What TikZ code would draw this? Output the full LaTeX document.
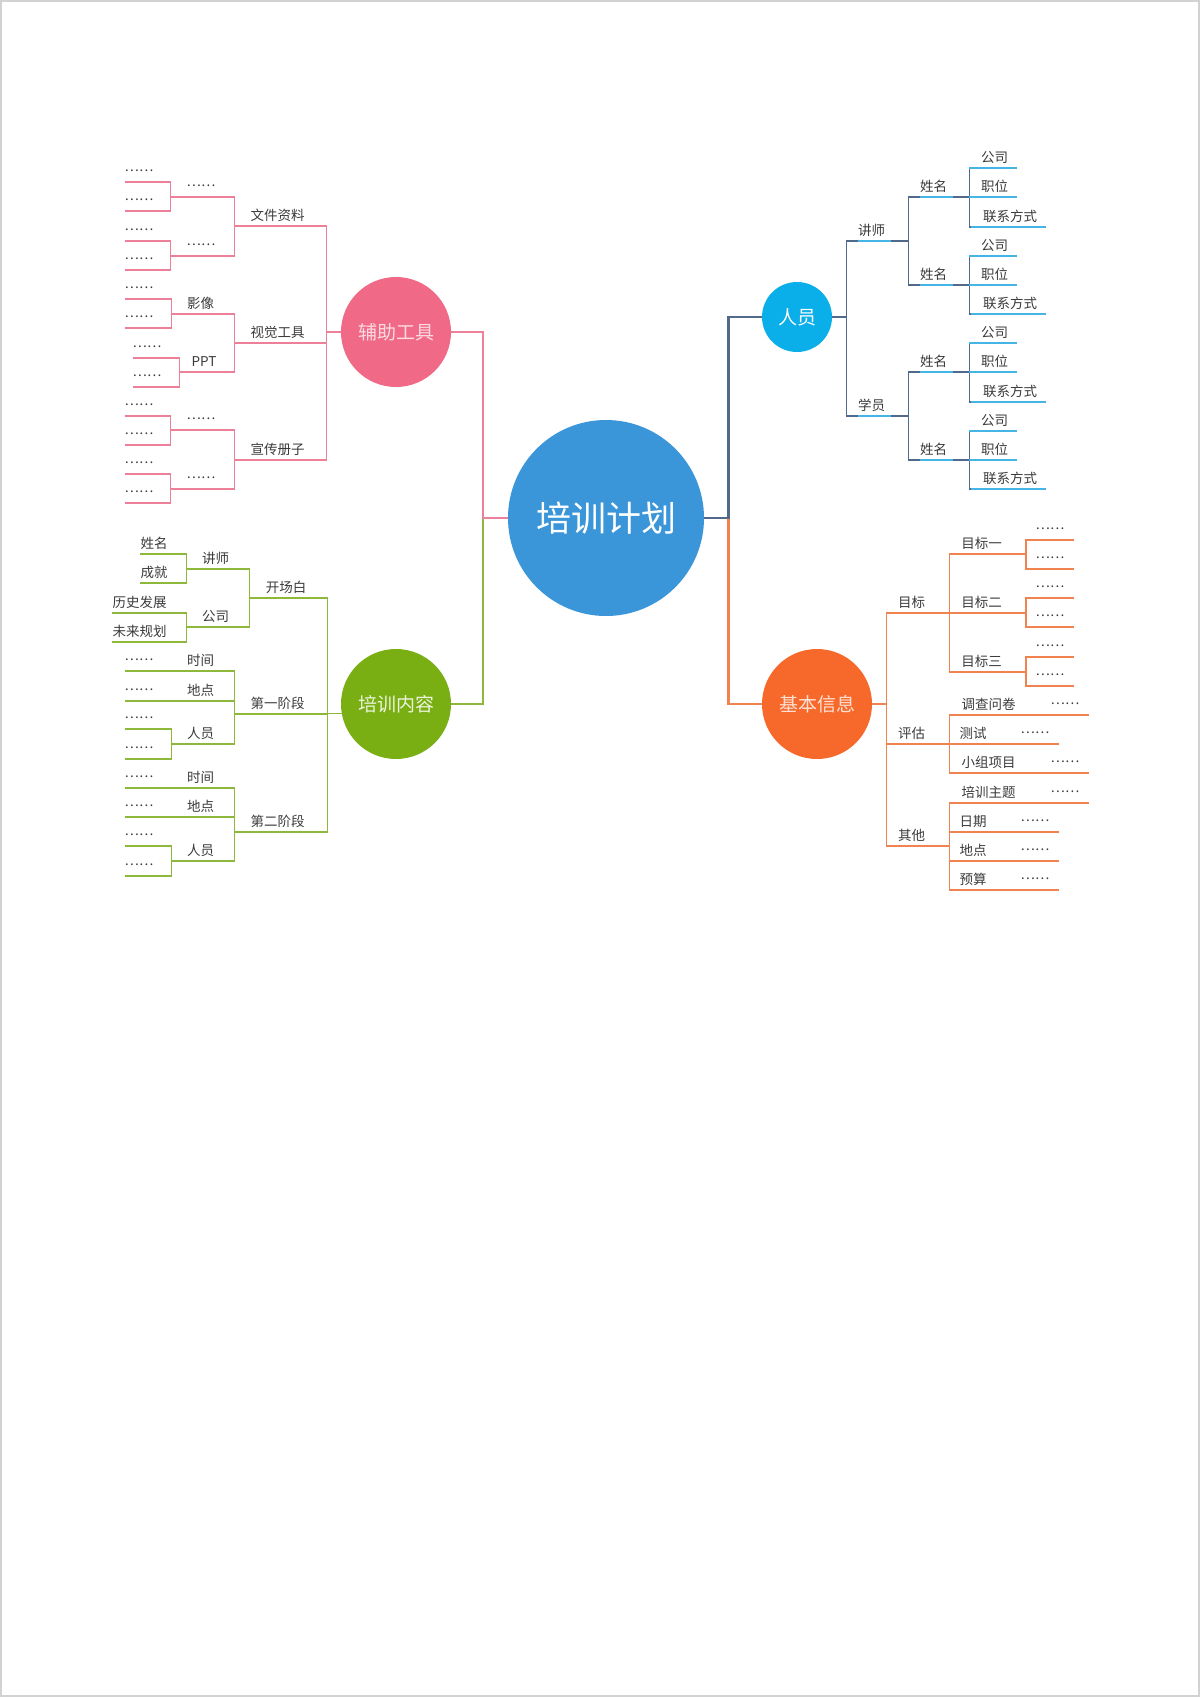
\documentclass[tikz,border=0pt]{standalone}
\usepackage{fontspec}
\newfontfamily\cjk{Noto Sans CJK SC}
\usetikzlibrary{backgrounds}
\definecolor{txt}{HTML}{3A3A3A}
\definecolor{hub}{HTML}{3A96D8}
\definecolor{pkfill}{HTML}{F06A88}
\definecolor{pkline}{HTML}{EC8099}
\definecolor{gnfill}{HTML}{7AAF14}
\definecolor{gnline}{HTML}{8DB83C}
\definecolor{blfill}{HTML}{0AAEE8}
\definecolor{bldark}{HTML}{51698A}
\definecolor{bllight}{HTML}{45B5E5}
\definecolor{ogfill}{HTML}{F7692B}
\definecolor{ogline}{HTML}{F0834F}
\definecolor{pageframe}{HTML}{D2D2D2}
\newcommand{\dts}{\raisebox{5pt}{……}}
\tikzset{
  lbl/.style={anchor=south, inner xsep=0pt, inner ysep=3pt, text height=11pt, text depth=2pt, text=txt, font=\cjk\fontsize{13.5}{13.5}\selectfont},
  pkln/.style={draw=pkline, line width=1.2pt},
  gnln/.style={draw=gnline, line width=1.2pt},
  blln/.style={draw=bldark, line width=1.2pt},
  bllt/.style={draw=bllight, line width=1.2pt},
  ogln/.style={draw=ogline, line width=1.2pt},
  pk/.style={lbl, append after command={(\tikzlastnode.south west) edge[pkln] (\tikzlastnode.south east)}},
  gn/.style={lbl, append after command={(\tikzlastnode.south west) edge[gnln] (\tikzlastnode.south east)}},
  bl/.style={lbl, append after command={(\tikzlastnode.south west) edge[bllt] ([xshift=6pt]\tikzlastnode.south east)}},
  blf/.style={lbl, append after command={([xshift=-12pt]\tikzlastnode.south west) edge[bllt] ([xshift=9pt]\tikzlastnode.south east)}},
  og/.style={lbl, append after command={(\tikzlastnode.south west) edge[ogln] (\tikzlastnode.south east)}},
  oglf/.style={lbl, append after command={(\tikzlastnode.south west) edge[ogln] ([xshift=9pt]\tikzlastnode.south east)}},
  topic/.style={circle, inner sep=0pt, minimum size=110pt, font=\cjk\fontsize{19}{19}\selectfont},
  trunk/.style={line width=2.6pt},
}
\begin{document}
\begin{tikzpicture}[x=1pt,y=-1pt]
\useasboundingbox (0,0) rectangle (1200,1697);
\draw[pageframe, line width=1.5pt] (1,1) rectangle (1199,1696);
% centre
\node[circle, fill=hub, minimum size=196pt, inner sep=0pt, text=white, font=\cjk\fontsize{35}{35}\selectfont] (root) at (606,518) {培训计划};
% 辅助工具
\node[topic, fill=pkfill, text=pkfill!25!white] (fz) at (396,332) {辅助工具};
\node[pk] (wj) at (277.5,226) {文件资料};
\node[pk] (sj) at (277.5,343) {视觉工具};
\node[pk] (xc) at (277.5,460) {宣传册子};
\node[pk] (wj1) at (201,197) {\dts};
\node[pk] (wj2) at (201,256) {\dts};
\node[pk] (yx) at (200.5,314) {影像};
\node[pk] (ppt) at (204,372) {PPT};
\node[pk] (xc1) at (201,430) {\dts};
\node[pk] (xc2) at (201,489) {\dts};
\node[pk] (wj1a) at (139,182) {\dts};
\node[pk] (wj1b) at (139,211) {\dts};
\node[pk] (wj2a) at (139,241) {\dts};
\node[pk] (wj2b) at (139,270) {\dts};
\node[pk] (yxa) at (139,299) {\dts};
\node[pk] (yxb) at (139,328) {\dts};
\node[pk] (ppta) at (147,358) {\dts};
\node[pk] (pptb) at (147,387) {\dts};
\node[pk] (xc1a) at (139,416) {\dts};
\node[pk] (xc1b) at (139,445) {\dts};
\node[pk] (xc2a) at (139,474) {\dts};
\node[pk] (xc2b) at (139,503) {\dts};
% 培训内容
\node[topic, fill=gnfill, text=gnfill!15!white] (px) at (396,704) {培训内容};
\node[gn] (kc) at (286,598) {开场白};
\node[gn] (d1) at (277.5,714) {第一阶段};
\node[gn] (d2) at (277.5,832) {第二阶段};
\node[gn] (js) at (215.5,569) {讲师};
\node[gn] (gs) at (215.5,627) {公司};
\node[gn] (xm) at (154,554) {姓名};
\node[gn] (cj) at (154,583) {成就};
\node[gn] (ls) at (139.5,613) {历史发展};
\node[gn] (wl) at (139.5,642) {未来规划};
\node[gn] (sja) at (200.5,671) {时间};
\node[gn] (dda) at (200.5,701) {地点};
\node[gn] (rya) at (200.5,744) {人员};
\node[gn] (sja1) at (139,671) {\dts};
\node[gn] (dda1) at (139,701) {\dts};
\node[gn] (rya1) at (139,729) {\dts};
\node[gn] (rya2) at (139,759) {\dts};
\node[gn] (sjb) at (200.5,788) {时间};
\node[gn] (ddb) at (200.5,817) {地点};
\node[gn] (ryb) at (200.5,861) {人员};
\node[gn] (sjb1) at (139,788) {\dts};
\node[gn] (ddb1) at (139,817) {\dts};
\node[gn] (ryb1) at (139,846) {\dts};
\node[gn] (ryb2) at (139,876) {\dts};
% 人员
\node[topic, minimum size=70pt, fill=blfill, text=white] (ry) at (797,317) {人员};
\node[bl] (bjs) at (871.5,241) {讲师};
\node[bl] (bxy) at (871.5,416) {学员};
\node[bl] (bx1) at (933.5,197) {姓名};
\node[bl] (bx2) at (933.5,285) {姓名};
\node[bl] (bx3) at (933.5,372) {姓名};
\node[bl] (bx4) at (933.5,460) {姓名};
\node[blf] (gs1) at (994.5,168) {公司};
\node[blf] (zw1) at (994.5,197) {职位};
\node[blf] (lx1) at (1010,227) {联系方式};
\node[blf] (gs2) at (994.5,256) {公司};
\node[blf] (zw2) at (994.5,285) {职位};
\node[blf] (lx2) at (1010,314) {联系方式};
\node[blf] (gs3) at (994.5,343) {公司};
\node[blf] (zw3) at (994.5,372) {职位};
\node[blf] (lx3) at (1010,402) {联系方式};
\node[blf] (gs4) at (994.5,431) {公司};
\node[blf] (zw4) at (994.5,460) {职位};
\node[blf] (lx4) at (1010,489) {联系方式};
% 基本信息
\node[topic, fill=ogfill, text=ogfill!20!white] (jb) at (817,704) {基本信息};
\node[og] (mb) at (911.5,613) {目标};
\node[og] (pg) at (911.5,744) {评估};
\node[og] (qt) at (911.5,846) {其他};
\node[og] (m1) at (981.5,554) {目标一};
\node[og] (m2) at (981.5,613) {目标二};
\node[og] (m3) at (981.5,672) {目标三};
\node[oglf] (m1a) at (1050,540) {\dts};
\node[oglf] (m1b) at (1050,569) {\dts};
\node[oglf] (m2a) at (1050,598) {\dts};
\node[oglf] (m2b) at (1050,627) {\dts};
\node[oglf] (m3a) at (1050,657) {\dts};
\node[oglf] (m3b) at (1050,686) {\dts};
\node[og] (dc) at (988.5,715) {调查问卷};
\node[oglf] (dc1) at (1065,715) {\dts};
\node[og] (cs) at (973,744) {测试};
\node[oglf] (cs1) at (1035,744) {\dts};
\node[og] (xz) at (988.5,773) {小组项目};
\node[oglf] (xz1) at (1065,773) {\dts};
\node[og] (pz) at (988.5,803) {培训主题};
\node[oglf] (pz1) at (1065,803) {\dts};
\node[og] (rq) at (973,832) {日期};
\node[oglf] (rq1) at (1035,832) {\dts};
\node[og] (dd) at (973,861) {地点};
\node[oglf] (dd1) at (1035,861) {\dts};
\node[og] (ys) at (973,890) {预算};
\node[oglf] (ys1) at (1035,890) {\dts};
\begin{scope}[on background layer]
% hub lines
\draw[trunk, gnline] (root.west) -- ++(-25,0) |- (px.east);
\draw[trunk, pkline] (root.west) -- ++(-25,0) |- (fz.east);
\draw[trunk, ogline] (root.east) -- ++(24,0) |- (jb.west);
\draw[trunk, bldark] (root.east) -- ++(24,0) |- (ry.west);
% pink
\draw[pkln] (fz.west) -- ++(-14,0) |- (wj.south east);
\draw[pkln] (fz.west) -- ++(-14,0) |- (sj.south east);
\draw[pkln] (fz.west) -- ++(-14,0) |- (xc.south east);
\draw[pkln] (wj.south west) -- ++(-16,0) |- (wj1.south east);
\draw[pkln] (wj.south west) -- ++(-16,0) |- (wj2.south east);
\draw[pkln] (sj.south west) -- ++(-16,0) |- (yx.south east);
\draw[pkln] (sj.south west) -- ++(-16,0) |- (ppt.south east);
\draw[pkln] (xc.south west) -- ++(-16,0) |- (xc1.south east);
\draw[pkln] (xc.south west) -- ++(-16,0) |- (xc2.south east);
\draw[pkln] (wj1.south west) -- ++(-16,0) |- (wj1a.south east);
\draw[pkln] (wj1.south west) -- ++(-16,0) |- (wj1b.south east);
\draw[pkln] (wj2.south west) -- ++(-16,0) |- (wj2a.south east);
\draw[pkln] (wj2.south west) -- ++(-16,0) |- (wj2b.south east);
\draw[pkln] (yx.south west) -- ++(-15,0) |- (yxa.south east);
\draw[pkln] (yx.south west) -- ++(-15,0) |- (yxb.south east);
\draw[pkln] (ppt.south west) -- ++(-12,0) |- (ppta.south east);
\draw[pkln] (ppt.south west) -- ++(-12,0) |- (pptb.south east);
\draw[pkln] (xc1.south west) -- ++(-16,0) |- (xc1a.south east);
\draw[pkln] (xc1.south west) -- ++(-16,0) |- (xc1b.south east);
\draw[pkln] (xc2.south west) -- ++(-16,0) |- (xc2a.south east);
\draw[pkln] (xc2.south west) -- ++(-16,0) |- (xc2b.south east);
% green
\draw[gnln] (px.190) -- ++(-14,0) |- (kc.south east);
\draw[gnln] (px.190) -- ++(-14,0) |- (d1.south east);
\draw[gnln] (px.190) -- ++(-14,0) |- (d2.south east);
\draw[gnln] (kc.south west) -- ++(-16,0) |- (js.south east);
\draw[gnln] (kc.south west) -- ++(-16,0) |- (gs.south east);
\draw[gnln] (js.south west) -- ++(-15,0) |- (xm.south east);
\draw[gnln] (js.south west) -- ++(-15,0) |- (cj.south east);
\draw[gnln] (gs.south west) -- ++(-15,0) |- (ls.south east);
\draw[gnln] (gs.south west) -- ++(-15,0) |- (wl.south east);
\draw[gnln] (d1.south west) -- ++(-16,0) |- (sja.south east);
\draw[gnln] (d1.south west) -- ++(-16,0) |- (dda.south east);
\draw[gnln] (d1.south west) -- ++(-16,0) |- (rya.south east);
\draw[gnln] (sja.south west) -- (sja1.south east);
\draw[gnln] (dda.south west) -- (dda1.south east);
\draw[gnln] (rya.south west) -- ++(-15,0) |- (rya1.south east);
\draw[gnln] (rya.south west) -- ++(-15,0) |- (rya2.south east);
\draw[gnln] (d2.south west) -- ++(-16,0) |- (sjb.south east);
\draw[gnln] (d2.south west) -- ++(-16,0) |- (ddb.south east);
\draw[gnln] (d2.south west) -- ++(-16,0) |- (ryb.south east);
\draw[gnln] (sjb.south west) -- (sjb1.south east);
\draw[gnln] (ddb.south west) -- (ddb1.south east);
\draw[gnln] (ryb.south west) -- ++(-15,0) |- (ryb1.south east);
\draw[gnln] (ryb.south west) -- ++(-15,0) |- (ryb2.south east);
% blue
\draw[blln] (ry.east) -- ++(14,0) |- (bjs.south west);
\draw[blln] (ry.east) -- ++(14,0) |- (bxy.south west);
\draw[blln] (bjs.south east) -- ++(23,0) |- (bx1.south west);
\draw[blln] (bjs.south east) -- ++(23,0) |- (bx2.south west);
\draw[blln] (bxy.south east) -- ++(23,0) |- (bx3.south west);
\draw[blln] (bxy.south east) -- ++(23,0) |- (bx4.south west);
\draw[blln] (bx1.south east) -- ++(22,0) |- (gs1.south west);
\draw[blln] (bx1.south east) -- ++(22,0) |- (zw1.south west);
\draw[blln] (bx1.south east) -- ++(22,0) |- (lx1.south west);
\draw[blln] (bx2.south east) -- ++(22,0) |- (gs2.south west);
\draw[blln] (bx2.south east) -- ++(22,0) |- (zw2.south west);
\draw[blln] (bx2.south east) -- ++(22,0) |- (lx2.south west);
\draw[blln] (bx3.south east) -- ++(22,0) |- (gs3.south west);
\draw[blln] (bx3.south east) -- ++(22,0) |- (zw3.south west);
\draw[blln] (bx3.south east) -- ++(22,0) |- (lx3.south west);
\draw[blln] (bx4.south east) -- ++(22,0) |- (gs4.south west);
\draw[blln] (bx4.south east) -- ++(22,0) |- (zw4.south west);
\draw[blln] (bx4.south east) -- ++(22,0) |- (lx4.south west);
% orange
\draw[ogln] (jb.east) -- ++(14,0) |- (mb.south west);
\draw[ogln] (jb.east) -- ++(14,0) |- (pg.south west);
\draw[ogln] (jb.east) -- ++(14,0) |- (qt.south west);
\draw[ogln] (mb.south east) -- ++(24,0) |- (m1.south west);
\draw[ogln] (mb.south east) -- ++(24,0) |- (m2.south west);
\draw[ogln] (mb.south east) -- ++(24,0) |- (m3.south west);
\draw[ogln] (m1.south east) -- ++(24,0) |- (m1a.south west);
\draw[ogln] (m1.south east) -- ++(24,0) |- (m1b.south west);
\draw[ogln] (m2.south east) -- ++(24,0) |- (m2a.south west);
\draw[ogln] (m2.south east) -- ++(24,0) |- (m2b.south west);
\draw[ogln] (m3.south east) -- ++(24,0) |- (m3a.south west);
\draw[ogln] (m3.south east) -- ++(24,0) |- (m3b.south west);
\draw[ogln] (pg.south east) -- ++(24,0) |- (dc.south west);
\draw[ogln] (pg.south east) -- ++(24,0) |- (cs.south west);
\draw[ogln] (pg.south east) -- ++(24,0) |- (xz.south west);
\draw[ogln] (qt.south east) -- ++(24,0) |- (pz.south west);
\draw[ogln] (qt.south east) -- ++(24,0) |- (rq.south west);
\draw[ogln] (qt.south east) -- ++(24,0) |- (dd.south west);
\draw[ogln] (qt.south east) -- ++(24,0) |- (ys.south west);
\draw[ogln] (dc.south east) -- (dc1.south west);
\draw[ogln] (cs.south east) -- (cs1.south west);
\draw[ogln] (xz.south east) -- (xz1.south west);
\draw[ogln] (pz.south east) -- (pz1.south west);
\draw[ogln] (rq.south east) -- (rq1.south west);
\draw[ogln] (dd.south east) -- (dd1.south west);
\draw[ogln] (ys.south east) -- (ys1.south west);
\end{scope}
\end{tikzpicture}
\end{document}
